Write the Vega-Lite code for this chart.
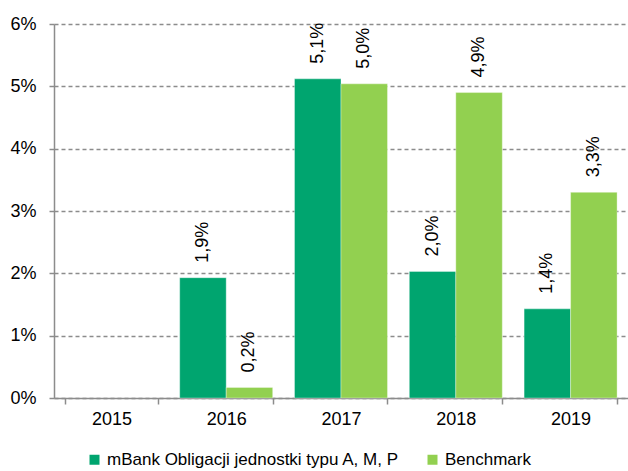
{
  "$schema": "https://vega.github.io/schema/vega-lite/v6.json",
  "width": 574,
  "height": 374,
  "padding": {"left": 54, "top": 24, "right": 0, "bottom": 73},
  "autosize": {"type": "none"},
  "background": "white",
  "config": {
    "view": {"stroke": null},
    "font": "Liberation Sans"
  },
  "data": {
    "values": [
      {"year": "2016", "series": "mBank Obligacji jednostki typu A, M, P", "value": 1.93, "label": "1,9%"},
      {"year": "2016", "series": "Benchmark", "value": 0.17, "label": "0,2%"},
      {"year": "2017", "series": "mBank Obligacji jednostki typu A, M, P", "value": 5.12, "label": "5,1%"},
      {"year": "2017", "series": "Benchmark", "value": 5.04, "label": "5,0%"},
      {"year": "2018", "series": "mBank Obligacji jednostki typu A, M, P", "value": 2.03, "label": "2,0%"},
      {"year": "2018", "series": "Benchmark", "value": 4.9, "label": "4,9%"},
      {"year": "2019", "series": "mBank Obligacji jednostki typu A, M, P", "value": 1.43, "label": "1,4%"},
      {"year": "2019", "series": "Benchmark", "value": 3.3, "label": "3,3%"}
    ]
  },
  "encoding": {
    "x": {
      "field": "year", "type": "nominal",
      "scale": {"domain": ["2015", "2016", "2017", "2018", "2019"], "paddingInner": 0.19, "paddingOuter": 0.095},
      "axis": {
        "title": null, "labelAngle": 0, "tickBand": "extent", "domainColor": "#8c8c8c", "domainWidth": 1.5,
        "tickColor": "#8c8c8c", "tickWidth": 1.5, "tickSize": 6, "labelPadding": 6, "grid": false,
        "labelFont": "Liberation Sans", "labelFontSize": 18, "labelColor": "#000000"
      }
    },
    "xOffset": {"field": "series", "type": "nominal", "sort": ["mBank Obligacji jednostki typu A, M, P", "Benchmark"]},
    "y": {
      "field": "value", "type": "quantitative",
      "scale": {"domain": [0, 6], "nice": false},
      "axis": {
        "title": null, "values": [0, 1, 2, 3, 4, 5, 6], "labelExpr": "datum.value + '%'",
        "domainColor": "#8c8c8c", "domainWidth": 1.5, "tickColor": "#8c8c8c", "tickWidth": 1.5, "tickSize": 5,
        "labelPadding": 13, "grid": true, "gridColor": "#8c8c8c", "gridWidth": 1.5, "gridDash": [4, 3],
        "labelFont": "Liberation Sans", "labelFontSize": 18, "labelColor": "#000000"
      }
    }
  },
  "layer": [
    {
      "mark": {"type": "bar", "stroke": "#ffffff", "strokeOpacity": 0.35, "strokeWidth": 1},
      "encoding": {
        "color": {
          "field": "series", "type": "nominal",
          "scale": {"domain": ["mBank Obligacji jednostki typu A, M, P", "Benchmark"], "range": ["#00a56f", "#92d050"]},
          "legend": {
            "title": null, "orient": "none", "direction": "horizontal", "legendX": 32, "legendY": 427,
            "symbolType": "square", "symbolSize": 100, "symbolStrokeWidth": 0, "labelFontSize": 17,
            "labelFont": "Liberation Sans", "labelColor": "#000000", "columnPadding": 25, "labelOffset": 4,
            "labelLimit": 400
          }
        }
      }
    },
    {
      "mark": {"type": "text", "angle": 270, "align": "left", "baseline": "middle", "dx": 15, "fontSize": 18, "font": "Liberation Sans", "color": "#000000"},
      "encoding": {"text": {"field": "label"}}
    }
  ]
}
